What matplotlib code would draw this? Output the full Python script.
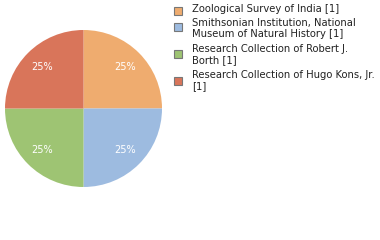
import matplotlib
matplotlib.use("Agg")
import matplotlib.pyplot as plt
from matplotlib.patches import Rectangle

# data
labels = ["Zoological Survey of India [1]",
          "Smithsonian Institution, National\nMuseum of Natural History [1]",
          "Research Collection of Robert J.\nBorth [1]",
          "Research Collection of Hugo Kons, Jr.\n[1]"]
counts = [1, 1, 1, 1]
colors = ["#efac6f", "#9dbbe0", "#9ec473", "#d9755a"]

W, H = 380, 240
fig = plt.figure(figsize=(W / 100, H / 100), dpi=100)

# pie in its own axes, positioned in pixels
ax = fig.add_axes([5 / W, (H - 187) / H, 157 / W, 157 / H])
wedges, texts, autotexts = ax.pie(counts, colors=colors, startangle=90,
                                  counterclock=False, autopct="%d%%",
                                  pctdistance=0.74,
                                  wedgeprops=dict(linewidth=0))
for t in autotexts:
    t.set_color("white")
    t.set_fontsize(7)
ax.set_xlim(-1, 1)
ax.set_ylim(-1, 1)
ax.set_aspect("equal")

# legend drawn by hand
sq_centers = [10.5, 26.5, 53.5, 81]
txt_centers = [9, 28.5, 54.5, 80.5]
for lab, col, ys, yt in zip(labels, colors, sq_centers, txt_centers):
    fig.patches.append(Rectangle((174 / W, 1 - (ys + 4) / H), 8 / W, 8 / H,
                                 transform=fig.transFigure, facecolor=col,
                                 edgecolor="#777777", linewidth=0.8))
    fig.text(192 / W, 1 - yt / H, lab, fontsize=7.2, va="center",
             ha="left", color="#222222", linespacing=1.2)

fig.savefig("out.png", dpi=100)
